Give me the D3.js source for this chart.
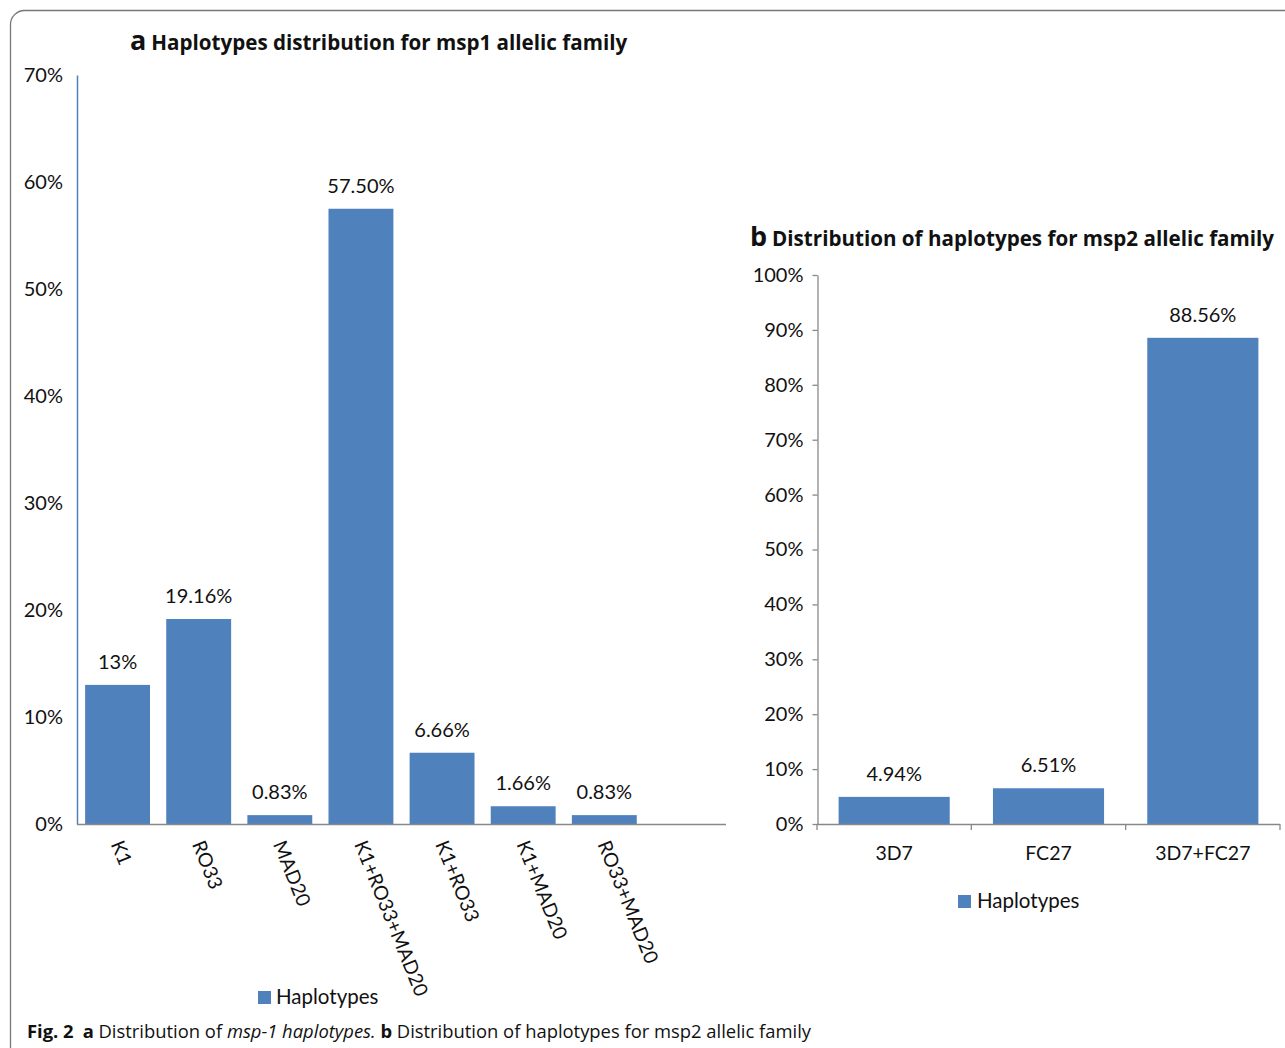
<html>
<meta charset="utf-8" />
<head>
<title>Fig. 2 msp1 / msp2 haplotypes</title>
<script src="https://cdn.jsdelivr.net/npm/d3@7/dist/d3.min.js"></script>
<style>
	body { margin: 0; background: #fff; }
	text { font-family: Lato, "Open Sans", sans-serif; fill: #111; }
</style>
<script>
// chart a: msp1 allelic family
const msp1Categories = ['K1', 'RO33', 'MAD20', 'K1+RO33+MAD20', 'K1+RO33', 'K1+MAD20', 'RO33+MAD20'];
const msp1Values = [13, 19.16, 0.83, 57.5, 6.66, 1.66, 0.83];
const msp1Labels = ['13%', '19.16%', '0.83%', '57.50%', '6.66%', '1.66%', '0.83%'];
const msp1Ticks = [0, 10, 20, 30, 40, 50, 60, 70];

// chart b: msp2 allelic family
const msp2Categories = ['3D7', 'FC27', '3D7+FC27'];
const msp2Values = [4.94, 6.51, 88.56];
const msp2Labels = ['4.94%', '6.51%', '88.56%'];
const msp2Ticks = [0, 10, 20, 30, 40, 50, 60, 70, 80, 90, 100];

const barColor = '#4f81bd';
const axisGray = '#888';

window.onload = function() {
	const svg = d3.select('svg');

	// outer frame (figure box, cut off right and bottom)
	svg.append('rect')
		.attr('x', 10.5).attr('y', 10.5)
		.attr('width', 1300).attr('height', 1080)
		.attr('rx', 14)
		.attr('fill', 'none').attr('stroke', '#777').attr('stroke-width', 1.3);

	// ---------- chart a ----------
	// Excel leaves one empty slot at the end of the axis
	const xA = d3.scaleBand().domain(msp1Categories.concat(['_']))
		.range([77, 726]).paddingInner(0.2).paddingOuter(0.1);
	const yA = d3.scaleLinear().domain([0, 70]).range([824, 75]);

	const gA = svg.append('g');

	const yAxisA = d3.axisLeft(yA).tickValues(msp1Ticks).tickSize(0).tickPadding(14)
		.tickFormat(d => d + '%');
	gA.append('g').attr('transform', 'translate(77,0)').call(yAxisA)
		.call(g => g.select('.domain').attr('stroke', barColor).attr('stroke-width', 1.5))
		.call(g => g.selectAll('text').style('font-size', '20px').style('font-family', 'Lato').attr('fill', '#111'));

	gA.selectAll('rect.bar')
		.data(msp1Values)
		.enter()
		.append('rect')
		.attr('class', 'bar')
		.attr('x', (d, i) => xA(msp1Categories[i]))
		.attr('y', d => yA(d))
		.attr('width', xA.bandwidth())
		.attr('height', d => yA(0) - yA(d))
		.attr('fill', barColor);

	// x axis line
	gA.append('line')
		.attr('x1', 77).attr('x2', 726).attr('y1', 824.5).attr('y2', 824.5)
		.attr('stroke', axisGray).attr('stroke-width', 1.3);

	gA.selectAll('text.val')
		.data(msp1Values)
		.enter()
		.append('text')
		.attr('class', 'val')
		.attr('x', (d, i) => xA(msp1Categories[i]) + xA.bandwidth() / 2)
		.attr('y', d => yA(d) - 16)
		.attr('text-anchor', 'middle')
		.style('font-size', '20px')
		.text((d, i) => msp1Labels[i]);

	gA.selectAll('text.cat')
		.data(msp1Categories)
		.enter()
		.append('text')
		.attr('class', 'cat')
		.attr('transform', d => 'translate(' + (xA(d) + xA.bandwidth() / 2 - 7) + ',844) rotate(68)')
		.style('font-size', '19.5px')
		.text(d => d);

	gA.append('text').attr('x', 130).attr('y', 50)
		.style('font-family', '"Open Sans", sans-serif')
		.style('font-size', '20.6px').style('font-weight', 'bold')
		.call(t => t.append('tspan').style('font-size', '27px').text('a'))
		.call(t => t.append('tspan').attr('dx', 5).text('Haplotypes distribution for msp1 allelic family'));

	gA.append('rect').attr('x', 258).attr('y', 991).attr('width', 13).attr('height', 13).attr('fill', barColor);
	gA.append('text').attr('x', 276).attr('y', 1004).style('font-size', '20.5px').text('Haplotypes');

	// ---------- chart b ----------
	const xB = d3.scaleBand().domain(msp2Categories)
		.range([817, 1280]).paddingInner(0.28).paddingOuter(0.14);
	const yB = d3.scaleLinear().domain([0, 100]).range([824, 275]);

	const gB = svg.append('g');

	const yAxisB = d3.axisLeft(yB).tickValues(msp2Ticks).tickSizeInner(5).tickSizeOuter(0).tickPadding(9)
		.tickFormat(d => d + '%');
	gB.append('g').attr('transform', 'translate(817.5,0)').call(yAxisB)
		.call(g => g.selectAll('.domain, line').attr('stroke', axisGray).attr('stroke-width', 1.3))
		.call(g => g.selectAll('text').style('font-size', '20px').style('font-family', 'Lato').attr('fill', '#111'));

	gB.selectAll('rect.bar')
		.data(msp2Values)
		.enter()
		.append('rect')
		.attr('class', 'bar')
		.attr('x', (d, i) => xB(msp2Categories[i]))
		.attr('y', d => yB(d))
		.attr('width', xB.bandwidth())
		.attr('height', d => yB(0) - yB(d))
		.attr('fill', barColor);

	// x axis with boundary ticks between categories
	const bounds = msp2Categories.map((d, i) => 817 + i * xB.step()).concat([1280]);
	gB.append('line')
		.attr('x1', 817).attr('x2', 1280).attr('y1', 824.5).attr('y2', 824.5)
		.attr('stroke', axisGray).attr('stroke-width', 1.3);
	gB.selectAll('line.tk')
		.data(bounds)
		.enter()
		.append('line')
		.attr('class', 'tk')
		.attr('x1', d => d).attr('x2', d => d).attr('y1', 824).attr('y2', 830)
		.attr('stroke', axisGray).attr('stroke-width', 1.3);

	gB.selectAll('text.val')
		.data(msp2Values)
		.enter()
		.append('text')
		.attr('class', 'val')
		.attr('x', (d, i) => xB(msp2Categories[i]) + xB.bandwidth() / 2)
		.attr('y', d => yB(d) - 16)
		.attr('text-anchor', 'middle')
		.style('font-size', '20px')
		.text((d, i) => msp2Labels[i]);

	gB.selectAll('text.cat')
		.data(msp2Categories)
		.enter()
		.append('text')
		.attr('class', 'cat')
		.attr('x', d => xB(d) + xB.bandwidth() / 2)
		.attr('y', 860)
		.attr('text-anchor', 'middle')
		.style('font-size', '19.5px')
		.text(d => d);

	gB.append('text').attr('x', 750).attr('y', 246)
		.style('font-family', '"Open Sans", sans-serif')
		.style('font-size', '20.6px').style('font-weight', 'bold')
		.call(t => t.append('tspan').style('font-size', '27px').text('b'))
		.call(t => t.append('tspan').attr('dx', 5).text('Distribution of haplotypes for msp2 allelic family'));

	gB.append('rect').attr('x', 958).attr('y', 895).attr('width', 13).attr('height', 13).attr('fill', barColor);
	gB.append('text').attr('x', 977).attr('y', 908).style('font-size', '20.5px').text('Haplotypes');

	// ---------- caption ----------
	const cap = svg.append('text').attr('x', 27).attr('y', 1038)
		.style('font-family', '"Open Sans", sans-serif').style('font-size', '18.4px').attr('fill', '#222');
	cap.append('tspan').style('font-weight', 'bold').text('Fig. 2');
	cap.append('tspan').attr('dx', 9).style('font-weight', 'bold').text('a');
	cap.append('tspan').text(' Distribution of ');
	cap.append('tspan').style('font-style', 'italic').text('msp-1 haplotypes.');
	cap.append('tspan').text(' ');
	cap.append('tspan').style('font-weight', 'bold').text('b');
	cap.append('tspan').text(' Distribution of haplotypes for msp2 allelic family');
};
</script>
</head>
<body>
<svg width="1285" height="1048"></svg>
</body>
</html>
